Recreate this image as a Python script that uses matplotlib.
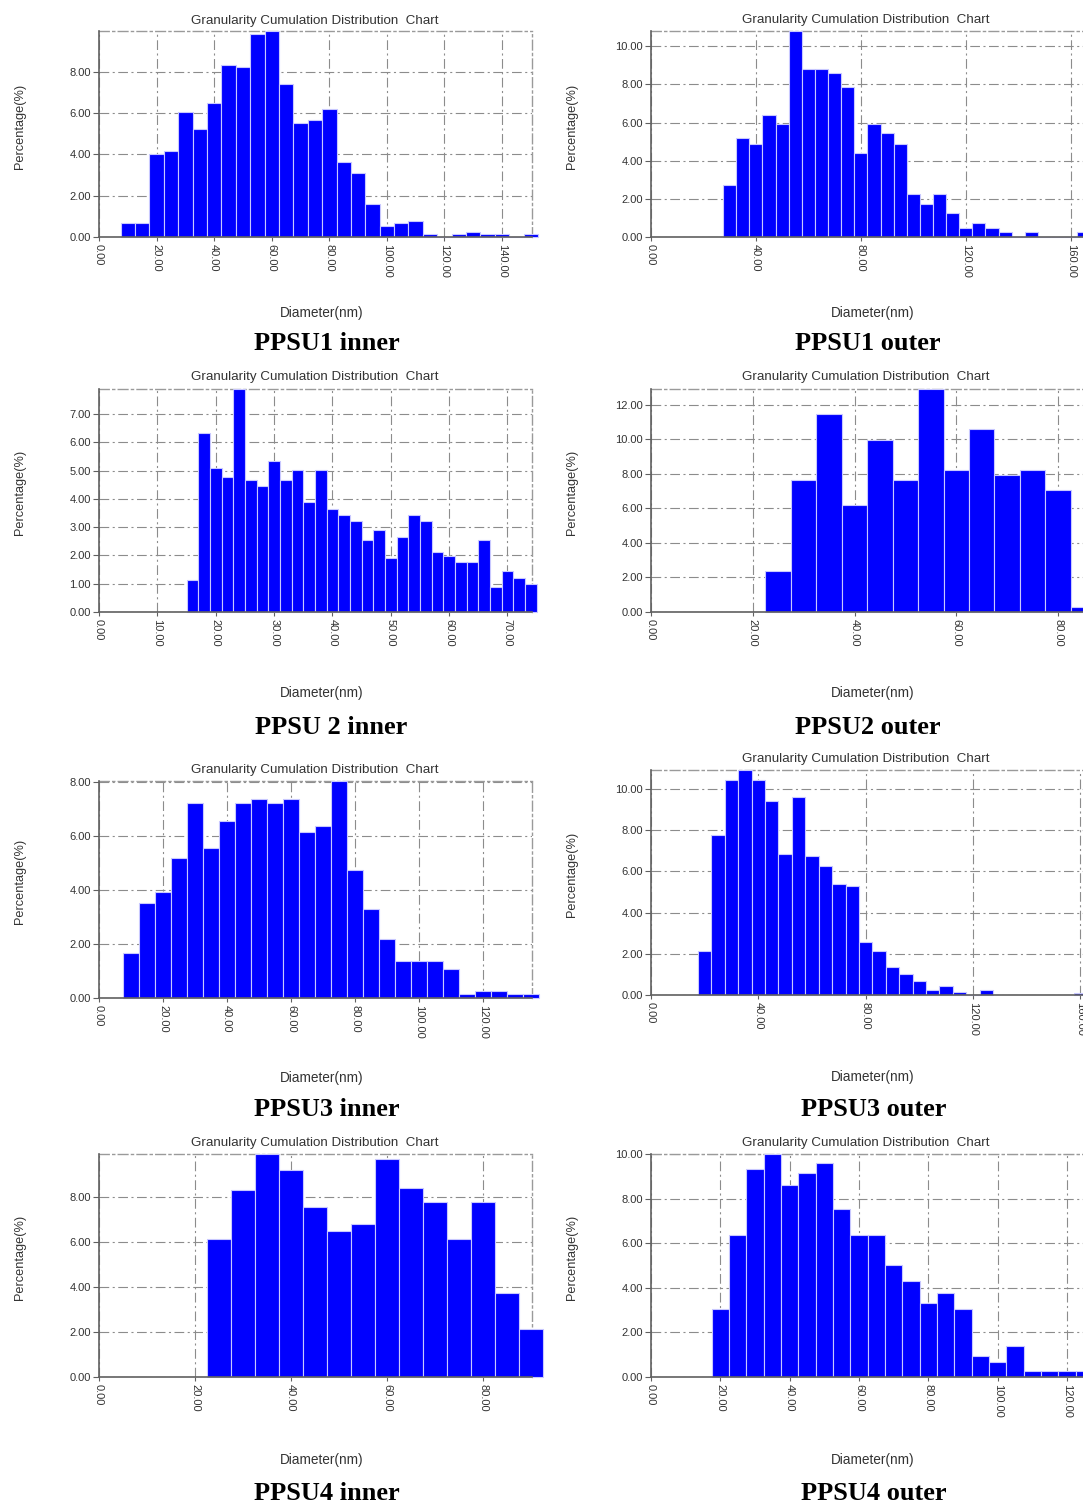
import matplotlib.pyplot as plt
from matplotlib.ticker import MultipleLocator, FormatStrFormatter
import numpy as np

plt.rcParams["font.family"] = ["Liberation Sans", "DejaVu Sans"]
plt.rcParams["lines.scale_dashes"] = False

W, H = 1083, 1503

# --- data (bin centre in nm, percentage) ---
ppsu1_inner_d = [10, 15, 20, 25, 30, 35, 40, 45, 50, 55, 60, 65, 70, 75, 80,
                 85, 90, 95, 100, 105, 110, 115, 120, 125, 130, 135, 140, 145, 150]
ppsu1_inner_pct = [0.68, 0.68, 4.04, 4.18, 6.04, 5.23, 6.48, 8.35, 8.24, 9.85,
                   9.98, 7.42, 5.52, 5.67, 6.22, 3.63, 3.10, 1.62, 0.52, 0.68,
                   0.79, 0.13, 0.0, 0.13, 0.24, 0.13, 0.13, 0.0, 0.13]

ppsu1_outer_d = [30, 35, 40, 45, 50, 55, 60, 65, 70, 75, 80, 85, 90, 95, 100,
                 105, 110, 115, 120, 125, 130, 135, 140, 145, 150, 155, 160, 165]
ppsu1_outer_pct = [2.73, 5.17, 4.90, 6.38, 5.90, 10.80, 8.83, 8.83, 8.59, 7.88,
                   4.40, 5.90, 5.43, 4.90, 2.23, 1.72, 2.23, 1.25, 0.49, 0.75,
                   0.49, 0.24, 0.0, 0.24, 0.0, 0.0, 0.0, 0.24]

ppsu2_inner_d = [16, 18, 20, 22, 24, 26, 28, 30, 32, 34, 36, 38, 40, 42, 44,
                 46, 48, 50, 52, 54, 56, 58, 60, 62, 64, 66, 68, 70, 72, 74]
ppsu2_inner_pct = [1.12, 6.33, 5.10, 4.79, 7.89, 4.66, 4.45, 5.35, 4.66, 5.01,
                   3.89, 5.01, 3.65, 3.43, 3.22, 2.54, 2.89, 1.90, 2.67, 3.43,
                   3.22, 2.11, 1.98, 1.77, 1.77, 2.54, 0.88, 1.44, 1.21, 1.00]

ppsu2_outer_d = [25, 30, 35, 40, 45, 50, 55, 60, 65, 70, 75, 80, 85]
ppsu2_outer_pct = [2.35, 7.63, 11.43, 6.17, 9.96, 7.63, 12.90, 8.21, 10.56,
                   7.94, 8.21, 7.03, 0.29]

ppsu3_inner_d = [10, 15, 20, 25, 30, 35, 40, 45, 50, 55, 60, 65, 70, 75, 80,
                 85, 90, 95, 100, 105, 110, 115, 120, 125, 130, 135]
ppsu3_inner_pct = [1.65, 3.53, 3.93, 5.17, 7.21, 5.57, 6.55, 7.21, 7.36, 7.21,
                   7.36, 6.14, 6.39, 8.04, 4.76, 3.28, 2.18, 1.37, 1.37, 1.37,
                   1.07, 0.14, 0.27, 0.27, 0.14, 0.14]

ppsu3_outer_d = [20, 25, 30, 35, 40, 45, 50, 55, 60, 65, 70, 75, 80, 85, 90,
                 95, 100, 105, 110, 115, 120, 125, 160]
ppsu3_outer_pct = [2.16, 7.76, 10.45, 10.93, 10.45, 9.43, 6.83, 9.64, 6.75,
                   6.28, 5.39, 5.31, 2.58, 2.16, 1.35, 1.01, 0.68, 0.24, 0.45,
                   0.13, 0.0, 0.24, 0.10]

ppsu4_inner_d = [25, 30, 35, 40, 45, 50, 55, 60, 65, 70, 75, 80, 85, 90]
ppsu4_inner_pct = [6.11, 8.28, 9.90, 9.17, 7.54, 6.46, 6.80, 9.70, 8.41, 7.75,
                   6.11, 7.75, 3.75, 2.13]

ppsu4_outer_d = [20, 25, 30, 35, 40, 45, 50, 55, 60, 65, 70, 75, 80, 85, 90,
                 95, 100, 105, 110, 115, 120, 125]
ppsu4_outer_pct = [3.06, 6.39, 9.33, 10.00, 8.63, 9.16, 9.60, 7.52, 6.39, 6.39,
                   5.01, 4.31, 3.33, 3.76, 3.06, 0.96, 0.67, 1.37, 0.28, 0.28,
                   0.28, 0.28]

captions = ["PPSU1 inner", "PPSU1 outer", "PPSU 2 inner", "PPSU2 outer",
            "PPSU3 inner", "PPSU3 outer", "PPSU4 inner", "PPSU4 outer"]

# --- layout (pixels, y from top) ---
panels = [
    # d, pct, bin width, xmax, xstep, ystep, (left, top, right, bottom), title y, xlabel y, caption (x, y)
    (ppsu1_inner_d, ppsu1_inner_pct, 5, 150.4, 20, 2, (99, 31, 532, 237), 21, 313, (327, 344)),
    (ppsu1_outer_d, ppsu1_outer_pct, 5, 164.7, 40, 2, (651, 31, 1083, 237), 20, 313, (868, 344)),
    (ppsu2_inner_d, ppsu2_inner_pct, 2, 74.2, 10, 1, (99, 389, 532, 612), 377, 693, (331, 727)),
    (ppsu2_outer_d, ppsu2_outer_pct, 5, 84.9, 20, 2, (651, 389, 1083, 612), 377, 693, (868, 727)),
    (ppsu3_inner_d, ppsu3_inner_pct, 5, 135.3, 20, 2, (99, 781, 532, 998), 770, 1078, (327, 1110)),
    (ppsu3_outer_d, ppsu3_outer_pct, 5, 161.0, 40, 2, (651, 770, 1083, 995), 759, 1077, (874, 1110)),
    (ppsu4_inner_d, ppsu4_inner_pct, 5, 90.2, 20, 2, (99, 1154, 532, 1377), 1143, 1460, (327, 1493)),
    (ppsu4_outer_d, ppsu4_outer_pct, 5, 124.6, 20, 2, (651, 1154, 1083, 1377), 1143, 1460, (874, 1493)),
]

txt = "#333333"
grid_ls = (0, (7, 2.5, 1.5, 2.5))

fig = plt.figure(figsize=(W / 100, H / 100), dpi=100)

for i, (d, pct, bw, xmax, xstep, ystep, box, ty, xly, cap) in enumerate(panels):
    l, t, r, b = box
    right_col = i % 2 == 1
    ax = fig.add_axes([l / W, 1 - b / H, (r - l) / W, (b - t) / H])
    ax.bar(d, pct, width=bw, color="#0000ff", edgecolor="#c8c8ff",
           linewidth=0.8, clip_on=False, zorder=3)
    ax.set_xlim(0, xmax)
    ax.set_ylim(0, max(pct))
    ax.xaxis.set_major_locator(MultipleLocator(xstep))
    ax.yaxis.set_major_locator(MultipleLocator(ystep))
    ax.xaxis.set_major_formatter(FormatStrFormatter("%.2f"))
    ax.yaxis.set_major_formatter(FormatStrFormatter("%.2f"))
    ax.grid(True, color="#8c8c8c", linestyle=grid_ls, linewidth=0.8, zorder=1)
    ax.set_axisbelow(True)
    for s in ("left", "bottom"):
        ax.spines[s].set_color("#606060")
        ax.spines[s].set_linewidth(1.2)
        ax.spines[s].set_zorder(4)
    for s in ("top", "right"):
        ax.spines[s].set_color("#9a9a9a")
        ax.spines[s].set_linestyle(grid_ls)
        ax.spines[s].set_linewidth(1.0)
    if right_col:
        ax.spines["right"].set_visible(False)
    ax.tick_params(axis="x", labelrotation=-90, length=3, pad=2,
                   labelsize=8, colors="#606060", labelcolor=txt)
    ax.tick_params(axis="y", length=4, pad=2, labelsize=8,
                   colors="#606060", labelcolor=txt)

    xc = (l + min(r, 1083)) / 2
    fig.text((xc - 1) / W, 1 - ty / H, "Granularity Cumulation Distribution  Chart",
             ha="center", va="center", fontsize=9.6, color=txt)
    fig.text((l - 79) / W, 1 - ((t + b) / 2 - 8) / H, "Percentage(%)",
             ha="center", va="center", rotation=90, fontsize=9.2, color=txt)
    fig.text((xc + 6) / W, 1 - xly / H, "Diameter(nm)",
             ha="center", va="center", fontsize=9.8, color=txt)
    fig.text(cap[0] / W, 1 - cap[1] / H, captions[i], ha="center", va="center",
             fontsize=19, fontweight="bold", family=["Liberation Serif", "DejaVu Serif"],
             color="black")

fig.savefig("out.png", dpi=100)
